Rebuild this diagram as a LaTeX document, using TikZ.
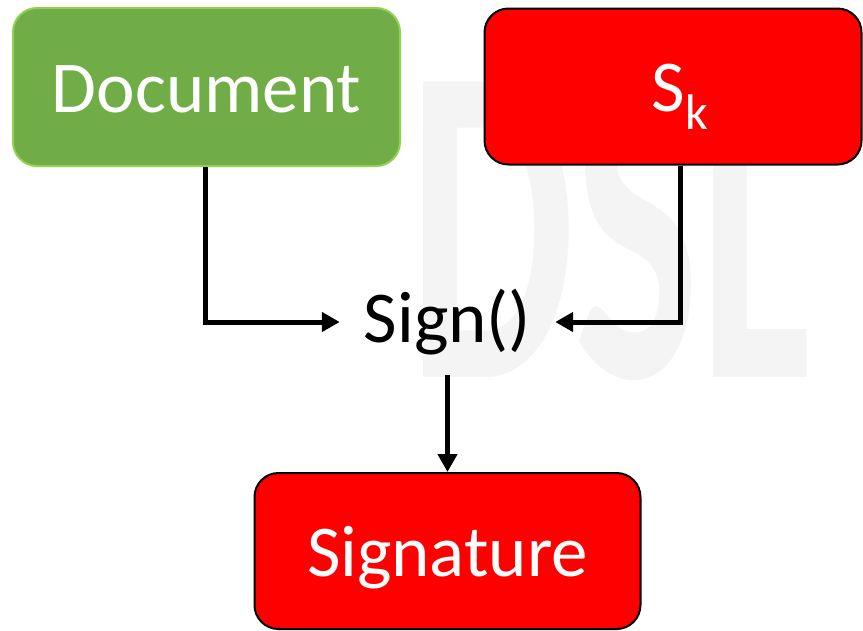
\documentclass[tikz,border=0pt]{standalone}
\usepackage{fontspec}
\setmainfont{Carlito}
\usetikzlibrary{arrows.meta}
\definecolor{docgreen}{HTML}{70AD47}
\definecolor{docedge}{HTML}{92D050}
\definecolor{keyred}{HTML}{FF0000}
\definecolor{wmark}{HTML}{F4F4F4}
\tikzset{
  boxnode/.style={rounded corners=24pt, line width=2pt, text=white,
    font=\fontsize{73}{80}\selectfont, text height=50pt, text depth=0pt,
    inner sep=0pt},
  greenbox/.style={boxnode, fill=docgreen, draw=docedge},
  redbox/.style={boxnode, fill=keyred, draw=black},
  arr/.style={line width=5pt, -{Triangle[length=18pt,width=19pt]}}
}
\begin{document}
\begin{tikzpicture}[x=1pt,y=-1pt]
\useasboundingbox (0,0) rectangle (863,630);
% watermark
\node[anchor=base, inner sep=0pt, xscale=0.58, text=wmark,
  font=\fontsize{456}{456}\selectfont\bfseries] (wm) at (610,377) {DSL};
% boxes
\node[greenbox, minimum width=387pt, minimum height=158pt] (doc) at (206.5,87) {Document};
\node[redbox, minimum width=377pt, minimum height=156pt] (sk) at (673,86.5)
  {\hspace{14pt}S\raisebox{-18pt}{\fontsize{50}{50}\selectfont k}};
\node[redbox, minimum width=386pt, minimum height=156pt] (sig) at (447.5,551) {Signature};
\node[font=\fontsize{73}{80}\selectfont, text height=40pt, text depth=0pt,
  minimum width=215pt, minimum height=106pt, inner sep=0pt] (sign) at (447.5,322) {Sign()};
% connectors
\draw[arr] ([xshift=-1.5pt]doc.south) |- (sign.west);
\draw[arr] ([xshift=7pt]sk.south) |- (sign.east);
\draw[arr] (sign.south) -- (sig.north);
\end{tikzpicture}
\end{document}
